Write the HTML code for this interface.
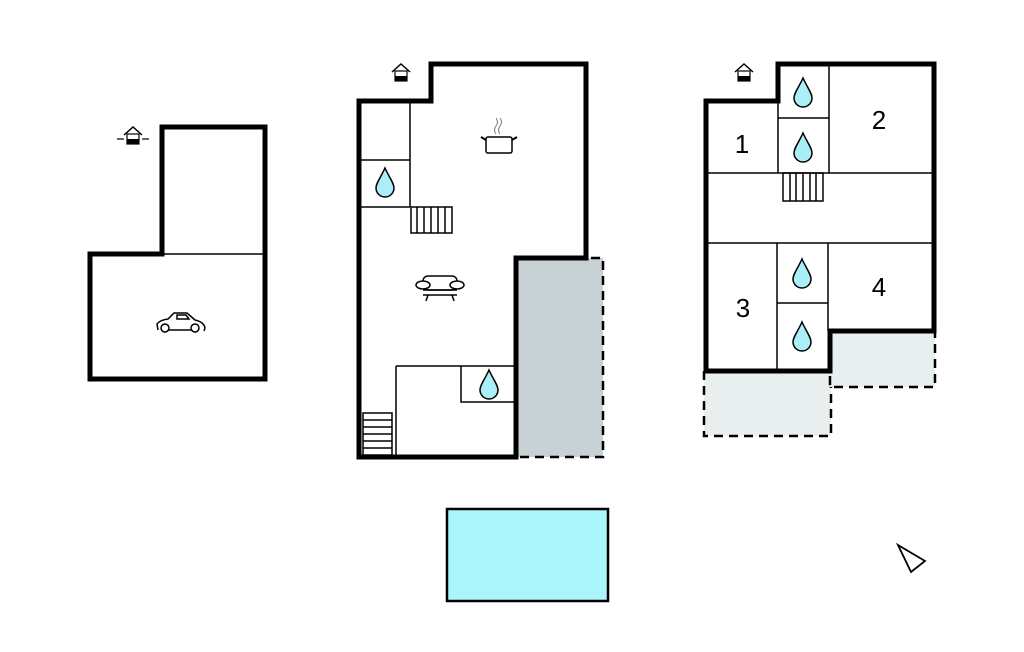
<!DOCTYPE html>
<html><head><meta charset="utf-8"><style>html,body{margin:0;padding:0;background:#fff}svg{display:block}</style></head>
<body>
<svg width="1024" height="652" viewBox="0 0 1024 652" xmlns="http://www.w3.org/2000/svg" font-family="Liberation Sans, sans-serif">
<defs>
<g id="drop"><path d="M0,-14 C-4,-5 -9,1 -9,6 A9,9 0 0 0 9,6 C9,1 4,-5 0,-14 Z" fill="#aaeef8" stroke="#000" stroke-width="1.5"/></g>
<g id="house"><path d="M-9,0 L0,-8 L9,0" fill="none" stroke="#000" stroke-width="1.5"/><rect x="-6" y="-1" width="12" height="10" fill="#fff" stroke="#000" stroke-width="1.2"/><rect x="-6" y="4" width="12" height="5" fill="#000"/></g>
</defs>
<!-- left building -->
<path d="M162,127 H265 V379 H90 V254 H162 Z" fill="#fff" stroke="#000" stroke-width="5"/>
<line x1="162" y1="254" x2="265" y2="254" stroke="#000" stroke-width="1.5"/>
<use href="#house" x="133" y="135"/>
<line x1="117" y1="139" x2="124" y2="139" stroke="#000" stroke-width="1.2"/><line x1="142" y1="139" x2="149" y2="139" stroke="#000" stroke-width="1.2"/>
<g fill="none" stroke="#000" stroke-width="1.5">
<path d="M158,330 L157,324 Q160,320 168,319 L174,313 H187 L195,320 Q204,322 205,328 L204,331"/>
<circle cx="165" cy="328" r="4" fill="#fff"/><circle cx="195" cy="328" r="4" fill="#fff"/>
<line x1="169" y1="330" x2="191" y2="330"/><path d="M177,315 H186 L189,319 H177 Z"/>
</g>
<!-- middle building -->
<rect x="516" y="258" width="87" height="199" fill="#c8d1d3"/>
<path d="M516,258 H603 V457 H516" fill="none" stroke="#000" stroke-width="2.5" stroke-dasharray="9,6"/>
<path d="M359,101 H431 V64 H586 V258 H516 V457 H359 Z" fill="none" stroke="#000" stroke-width="5"/>
<g stroke="#000" stroke-width="1.5" fill="none">
<line x1="410" y1="101" x2="410" y2="207"/><line x1="359" y1="160" x2="410" y2="160"/><line x1="359" y1="207" x2="410" y2="207"/>
<line x1="396" y1="366" x2="396" y2="457"/><line x1="396" y1="366" x2="516" y2="366"/>
<path d="M461,366 V402 H516"/>
<rect x="411" y="207" width="41" height="26"/>
<path d="M417,207V233M424,207V233M431,207V233M438,207V233M445,207V233"/>
<rect x="363" y="413" width="29" height="42"/>
<path d="M363,420H392M363,427H392M363,434H392M363,441H392M363,448H392"/>
<rect x="486" y="137" width="26" height="16" rx="2"/><path d="M486,140 L481,137 M512,140 L517,137" stroke-width="2"/>
<path d="M496,134 Q493,130 496,126 Q499,122 496,118 M500,134 Q497,130 500,126 Q503,122 500,118" stroke="#777" stroke-width="1"/>
<rect x="423" y="276" width="34" height="14" rx="5" fill="#fff"/><ellipse cx="423" cy="285" rx="7" ry="4" fill="#fff"/><ellipse cx="457" cy="285" rx="7" ry="4" fill="#fff"/>
<line x1="423" y1="290" x2="457" y2="290"/><path d="M428,295 L426,301 M452,295 L454,301"/><line x1="423" y1="295" x2="457" y2="295"/>
</g>
<use href="#drop" x="385" y="182"/><use href="#drop" x="489" y="384"/>
<use href="#house" x="401" y="72"/>
<!-- right building -->
<rect x="704" y="371" width="127" height="65" fill="#e9eeee"/><path d="M704,371 V436 H831 V371" fill="none" stroke="#000" stroke-width="2.5" stroke-dasharray="9,6"/>
<rect x="830" y="331" width="105" height="56" fill="#e9eeee"/><path d="M830,331 V387 H935 V331" fill="none" stroke="#000" stroke-width="2.5" stroke-dasharray="9,6"/>
<path d="M706,101 H778 V64 H934 V331 H830 V371 H706 Z" fill="none" stroke="#000" stroke-width="5"/>
<g stroke="#000" stroke-width="1.5" fill="none">
<line x1="778" y1="64" x2="778" y2="173"/><line x1="829" y1="64" x2="829" y2="173"/><line x1="778" y1="118" x2="829" y2="118"/>
<line x1="706" y1="173" x2="934" y2="173"/><line x1="706" y1="243" x2="934" y2="243"/>
<line x1="777" y1="243" x2="777" y2="371"/><line x1="828" y1="243" x2="828" y2="331"/><line x1="777" y1="303" x2="828" y2="303"/>
<rect x="783" y="173" width="40" height="28"/><path d="M790,173V201M796,173V201M803,173V201M810,173V201M816,173V201"/>
</g>
<use href="#drop" x="803" y="92"/><use href="#drop" x="803" y="147"/><use href="#drop" x="802" y="273"/><use href="#drop" x="802" y="336"/>
<use href="#house" x="744" y="72"/>
<g font-size="26" text-anchor="middle" fill="#000">
<text x="742" y="153">1</text><text x="879" y="129">2</text><text x="743" y="317">3</text><text x="879" y="296">4</text>
</g>
<!-- pool -->
<rect x="447" y="509" width="161" height="92" fill="#aaf6fc" stroke="#000" stroke-width="2.5"/>
<!-- compass -->
<path d="M898,545 L925,561 L911,572 Z" fill="#fff" stroke="#000" stroke-width="1.8"/>
</svg>
</body></html>
